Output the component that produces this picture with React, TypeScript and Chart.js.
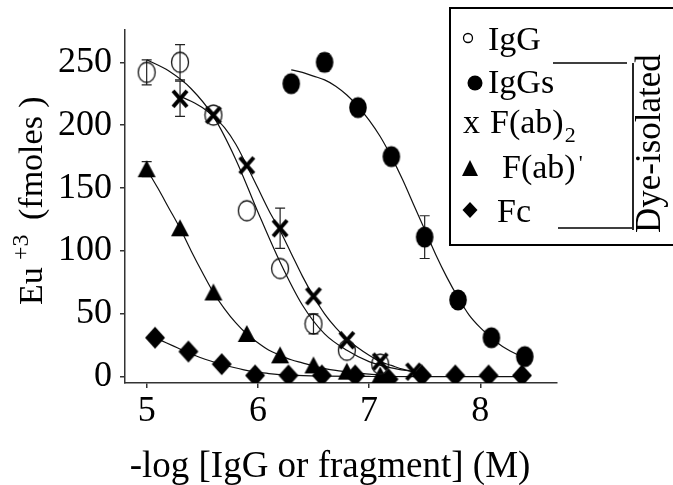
import React, { useEffect, useRef } from 'react';
import { Chart, registerables } from 'chart.js';
Chart.register(...registerables);

// ---- data ----
const xTicks = [5, 6, 7, 8];
const yTicks = [0, 50, 100, 150, 200, 250];

const iggX = [5.0, 5.3, 5.6, 5.9, 6.2, 6.5, 6.8, 7.1];
const iggY = [242, 250, 208, 132, 86, 42, 21, 10];
const iggErr = [10, 14, 0, 0, 0, 8, 0, 0];
const iggFitX = [5.0, 5.2, 5.4, 5.6, 5.8, 6.0, 6.2, 6.4, 6.6, 6.8, 7.0, 7.2, 7.4];
const iggFitY = [252, 243, 229, 207, 173, 131, 91, 57, 34, 21, 12, 7, 4];

const iggsX = [6.3, 6.6, 6.9, 7.2, 7.5, 7.8, 8.1, 8.4];
const iggsY = [233, 250, 214, 175, 111, 61, 31, 16];
const iggsErr = [0, 7, 0, 0, 17, 0, 0, 0];
const iggsFitX = [6.3, 6.4, 6.5, 6.6, 6.7, 6.8, 6.9, 7.0, 7.1, 7.2, 7.3, 7.4, 7.5, 7.6, 7.7, 7.8, 7.9, 8.0, 8.1, 8.2, 8.3, 8.4];
const iggsFitY = [244, 242, 239, 236, 231, 224, 215, 204, 191, 175, 157, 137, 117, 97, 79, 63, 49, 39, 31, 24, 19, 15];

const fab2X = [5.3, 5.6, 5.9, 6.2, 6.5, 6.8, 7.1, 7.4];
const fab2Y = [221, 208, 168, 118, 64, 29, 12, 4];
const fab2Err = [14, 0, 0, 16, 0, 0, 0, 0];
const fab2FitX = [5.3, 5.4, 5.5, 5.6, 5.7, 5.8, 5.9, 6.0, 6.1, 6.2, 6.3, 6.4, 6.5, 6.6, 6.7, 6.8, 6.9, 7.0, 7.1, 7.2, 7.3, 7.4];
const fab2FitY = [223, 219, 214, 207, 198, 185, 168, 150, 132, 116, 98, 80, 64, 50, 39, 30, 23, 17, 12, 9, 6, 4];

const fabX = [5.0, 5.3, 5.6, 5.9, 6.2, 6.5, 6.8, 7.1];
const fabY = [165, 118, 67, 34, 17, 9, 4, 1];
const fabErr = [6, 0, 0, 0, 0, 0, 0, 0];
const fabFitX = [5.0, 5.1, 5.2, 5.3, 5.4, 5.5, 5.6, 5.7, 5.8, 5.9, 6.0, 6.1, 6.2, 6.3, 6.4, 6.5, 6.6, 6.7, 6.8, 6.9, 7.0, 7.2];
const fabFitY = [165, 150, 134, 118, 100, 83, 67, 54, 43, 34, 27, 21, 17, 13.5, 11, 8.5, 6.5, 5, 4, 3, 2, 1];

const fcX = [5.075, 5.375, 5.675, 5.975, 6.275, 6.575, 6.875, 7.175, 7.475, 7.775, 8.075, 8.375];
const fcY = [31, 20, 10, 1, 1, 1, 1, -2, 1, 1, 1, 1];
const fcFitX = [5.075, 5.175, 5.275, 5.375, 5.475, 5.575, 5.675, 5.775, 5.875, 5.975, 6.1, 6.3, 6.6, 7.0, 7.5, 8.0, 8.375];
const fcFitY = [31, 27, 23, 19, 15.5, 12.5, 10, 7.5, 5.5, 4, 2.5, 1.2, 0.5, 0.2, 0, 0, 0];

const legendLabels = ['IgG', 'IgGs', 'F(ab)', 'F(ab)', 'Fc'];
const xTitle = '-log [IgG or fragment] (M)';
const bracketLabel = 'Dye-isolated';

const SERIF = '"Liberation Serif", "Times New Roman", serif';

function pts(xs: number[], ys: number[]) {
  return xs.map((x, i) => ({ x, y: ys[i] }));
}

function makeCanvas(w: number, h: number, draw: (c: CanvasRenderingContext2D) => void) {
  const cv = document.createElement('canvas');
  cv.width = w;
  cv.height = h;
  const c = cv.getContext('2d')!;
  draw(c);
  return cv;
}

export default function App() {
  const ref = useRef<HTMLCanvasElement | null>(null);

  useEffect(() => {
    const canvas = ref.current!;
    const openCircle = makeCanvas(20, 24, (c) => {
      c.beginPath();
      c.ellipse(10, 12, 8.5, 10, 0, 0, Math.PI * 2);
      c.lineWidth = 1.3;
      c.strokeStyle = '#111';
      c.stroke();
    });
    const fullCircle = makeCanvas(20, 24, (c) => {
      c.beginPath();
      c.ellipse(10, 12, 8.8, 10.5, 0, 0, Math.PI * 2);
      c.fillStyle = '#000';
      c.fill();
    });
    const triangle = makeCanvas(22, 22, (c) => {
      c.beginPath();
      c.moveTo(11, 2);
      c.lineTo(20, 19);
      c.lineTo(2, 19);
      c.closePath();
      c.fillStyle = '#000';
      c.fill();
    });
    const diamond = makeCanvas(24, 26, (c) => {
      c.beginPath();
      c.moveTo(12, 2);
      c.lineTo(22, 13);
      c.lineTo(12, 24);
      c.lineTo(2, 13);
      c.closePath();
      c.fillStyle = '#000';
      c.fill();
    });
    const cross = makeCanvas(20, 22, (c) => {
      c.beginPath();
      c.moveTo(3, 3);
      c.lineTo(17, 19);
      c.moveTo(17, 3);
      c.lineTo(3, 19);
      c.lineWidth = 4;
      c.strokeStyle = '#000';
      c.stroke();
    });

    const pointDs = (data: any, style: any, err: number[]) => ({
      data,
      pointStyle: style,
      pointRadius: 10,
      showLine: false,
      order: 0,
      err,
    });
    const lineDs = (data: any) => ({
      data,
      showLine: true,
      pointRadius: 0,
      borderColor: '#111',
      borderWidth: 1.2,
      cubicInterpolationMode: 'monotone',
      order: 10,
    });

    const datasets: any[] = [
      pointDs(pts(iggX, iggY), openCircle, iggErr),
      pointDs(pts(iggsX, iggsY), fullCircle, iggsErr),
      pointDs(pts(fab2X, fab2Y), cross, fab2Err),
      pointDs(pts(fabX, fabY), triangle, fabErr),
      pointDs(pts(fcX, fcY), diamond, fcY.map(() => 0)),
      lineDs(pts(iggFitX, iggFitY)),
      lineDs(pts(iggsFitX, iggsFitY)),
      lineDs(pts(fab2FitX, fab2FitY)),
      lineDs(pts(fabFitX, fabFitY)),
      lineDs(pts(fcFitX, fcFitY)),
    ];

    const errorBars = {
      id: 'errorBars',
      beforeDatasetsDraw(chart: any) {
        const ctx = chart.ctx;
        const xs = chart.scales.x;
        const ys = chart.scales.y;
        ctx.save();
        ctx.strokeStyle = '#222';
        ctx.lineWidth = 1.2;
        chart.data.datasets.forEach((ds: any) => {
          if (!ds.err) return;
          ds.data.forEach((p: any, i: number) => {
            const e = ds.err[i];
            if (!e) return;
            const px = xs.getPixelForValue(p.x);
            const top = ys.getPixelForValue(p.y + e);
            const bot = ys.getPixelForValue(p.y - e);
            ctx.beginPath();
            ctx.moveTo(px, top);
            ctx.lineTo(px, bot);
            ctx.moveTo(px - 5, top);
            ctx.lineTo(px + 5, top);
            ctx.moveTo(px - 5, bot);
            ctx.lineTo(px + 5, bot);
            ctx.stroke();
          });
        });
        ctx.restore();
      },
    };

    const decor = {
      id: 'decor',
      afterDraw(chart: any) {
        const ctx = chart.ctx;
        ctx.save();
        ctx.fillStyle = '#000';
        ctx.strokeStyle = '#000';
        ctx.textBaseline = 'alphabetic';

        // x title
        ctx.font = `37px ${SERIF}`;
        ctx.textAlign = 'center';
        ctx.fillText(xTitle, 330, 477);

        // y title (rotated) with superscript
        ctx.save();
        ctx.translate(42, 305);
        ctx.rotate(-Math.PI / 2);
        ctx.textAlign = 'left';
        ctx.font = `34px ${SERIF}`;
        ctx.fillText('Eu', 0, 0);
        ctx.font = `24px ${SERIF}`;
        ctx.fillText('+3', 45, -14);
        ctx.font = `34px ${SERIF}`;
        ctx.fillText('(fmoles )', 85, 0);
        ctx.restore();

        // legend box (right edge runs off the canvas)
        ctx.lineWidth = 2;
        ctx.strokeRect(450, 8, 260, 237);

        ctx.textAlign = 'left';
        ctx.font = `34px ${SERIF}`;
        // row 1: open circle
        ctx.beginPath();
        ctx.arc(468, 38, 4.5, 0, Math.PI * 2);
        ctx.lineWidth = 1.3;
        ctx.stroke();
        ctx.fillText(legendLabels[0], 488, 50);
        // row 2: filled circle
        ctx.beginPath();
        ctx.arc(475, 83, 7.5, 0, Math.PI * 2);
        ctx.fill();
        ctx.fillText(legendLabels[1], 488, 93);
        // row 3: x F(ab)2
        ctx.fillText('x', 463, 133);
        ctx.fillText(legendLabels[2], 490, 133);
        const w3 = ctx.measureText(legendLabels[2]).width;
        ctx.font = `22px ${SERIF}`;
        ctx.fillText('2', 490 + w3 + 1, 142);
        // row 4: triangle F(ab)'
        ctx.beginPath();
        ctx.moveTo(470, 160);
        ctx.lineTo(478, 176);
        ctx.lineTo(462, 176);
        ctx.closePath();
        ctx.fill();
        ctx.font = `34px ${SERIF}`;
        ctx.fillText(legendLabels[3], 502, 178);
        const w4 = ctx.measureText(legendLabels[3]).width;
        ctx.font = `22px ${SERIF}`;
        ctx.fillText("'", 502 + w4 + 3, 170);
        // row 5: diamond Fc
        ctx.beginPath();
        ctx.moveTo(470, 202);
        ctx.lineTo(477.5, 210);
        ctx.lineTo(470, 218);
        ctx.lineTo(462.5, 210);
        ctx.closePath();
        ctx.fill();
        ctx.font = `34px ${SERIF}`;
        ctx.fillText(legendLabels[4], 497, 222);

        // bracket
        ctx.lineWidth = 1.7;
        ctx.beginPath();
        ctx.moveTo(553, 63);
        ctx.lineTo(627, 63);
        ctx.moveTo(633, 63);
        ctx.lineTo(633, 230);
        ctx.moveTo(558, 228);
        ctx.lineTo(632, 228);
        ctx.stroke();

        ctx.save();
        ctx.translate(660, 233);
        ctx.rotate(-Math.PI / 2);
        ctx.font = `35px ${SERIF}`;
        ctx.fillText(bracketLabel, 0, 0);
        ctx.restore();

        ctx.restore();
      },
    };

    const chart = new Chart(canvas, {
      type: 'scatter',
      data: { datasets },
      options: {
        animation: false,
        responsive: false,
        devicePixelRatio: 1,
        layout: { padding: { left: 0, right: 116, top: 25, bottom: 0 } },
        plugins: { legend: { display: false }, tooltip: { enabled: false } },
        scales: {
          x: {
            type: 'linear',
            min: 4.805,
            max: 8.69,
            afterBuildTicks: (s: any) => {
              s.ticks = xTicks.map((v) => ({ value: v }));
            },
            afterFit: (s: any) => {
              s.height = 102;
            },
            grid: { drawOnChartArea: false, drawTicks: true, tickLength: 5, color: '#333', lineWidth: 1.5 },
            border: { display: true, color: '#333', width: 1.5 },
            ticks: { font: { family: SERIF, size: 36 }, color: '#000', padding: 2, maxRotation: 0 },
          },
          y: {
            type: 'linear',
            min: -5,
            max: 276,
            afterBuildTicks: (s: any) => {
              s.ticks = yTicks.map((v) => ({ value: v }));
            },
            afterFit: (s: any) => {
              s.width = 125;
            },
            grid: { drawOnChartArea: false, drawTicks: true, tickLength: 5, color: '#333', lineWidth: 1.5 },
            border: { display: true, color: '#333', width: 1.5 },
            ticks: { font: { family: SERIF, size: 36 }, color: '#000', padding: 8 },
          },
        },
      },
      plugins: [errorBars, decor],
    } as any);

    return () => chart.destroy();
  }, []);

  return (
    <div style={{ position: 'absolute', left: 0, top: 0, width: 673, height: 485, background: '#fff' }}>
      <canvas ref={ref} width={673} height={485} style={{ width: 673, height: 485 }} />
    </div>
  );
}
